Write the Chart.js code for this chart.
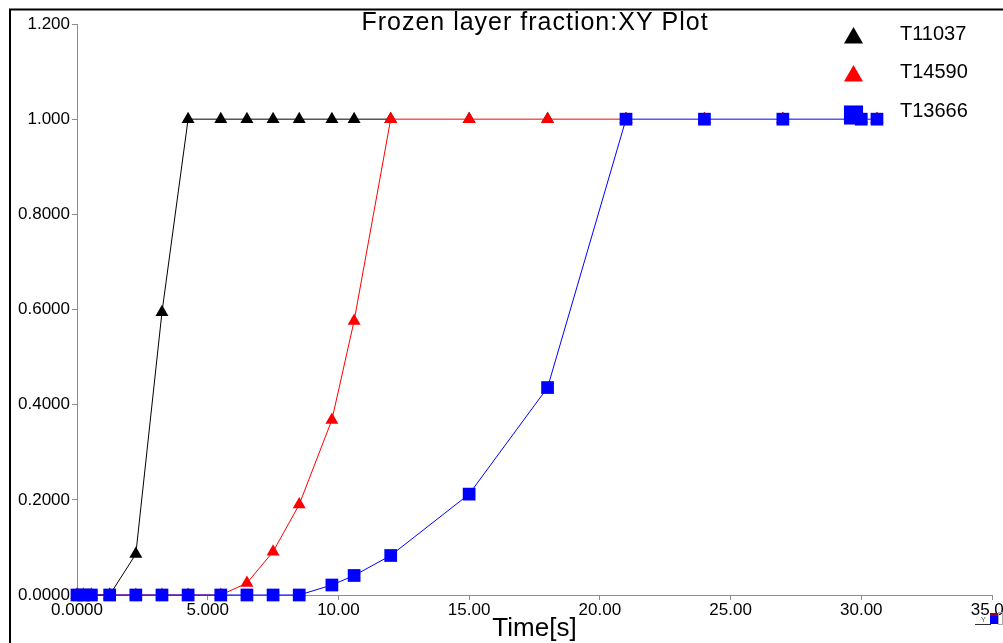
<!DOCTYPE html>
<html>
<head>
<meta charset="utf-8">
<title>Frozen layer fraction:XY Plot</title>
<script src="https://cdn.jsdelivr.net/npm/chart.js@4.4.1/dist/chart.umd.min.js"></script>
<style>
  html, body { margin: 0; padding: 0; background: #fff; }
  #wrap { width: 1003px; height: 643px; position: relative; }
</style>
</head>
<body>
<div id="wrap"><canvas id="plot" width="1003" height="643"></canvas></div>
<script>
// time steps shared by the three curves [s]
const times = [0, 0.25, 0.55, 1.25, 2.25, 3.25, 4.25, 5.5, 6.5, 7.5, 8.5, 9.75, 10.6, 12.0, 15.0, 18.0, 21.0, 24.0, 27.0, 30.0, 30.6];

// frozen layer fraction per node
const t11037 = [0, 0, 0, 0, 0.086, 0.594, 1, 1, 1, 1, 1, 1, 1, 1, 1, 1, 1, 1, 1, 1, 1];
const t14590 = [0, 0, 0, 0, 0, 0, 0, 0, 0.025, 0.091, 0.19, 0.368, 0.576, 1, 1, 1, 1, 1, 1, 1, 1];
const t13666 = [0, 0, 0, 0, 0, 0, 0, 0, 0, 0, 0, 0.021, 0.041, 0.083, 0.212, 0.436, 1, 1, 1, 1, 1];

const seriesNames = ['T11037', 'T14590', 'T13666'];
const xTickLabels = ['0.0000', '5.000', '10.00', '15.00', '20.00', '25.00', '30.00', '35.00'];
const yTickLabels = ['0.0000', '0.2000', '0.4000', '0.6000', '0.8000', '1.000', '1.200'];

const FONT = '"Liberation Sans", Arial, sans-serif';
const axisGray = '#8c8c8c';

function toPoints(values) {
  return times.map((t, i) => ({ x: t, y: values[i] }));
}

// the next curve is drawn on top of this one from `from` on, so skip the line there
function hideAfter(from) {
  return {
    borderColor: (c) => (c.p0.parsed.x >= from ? 'rgba(0,0,0,0)' : undefined)
  };
}

// legend, title, frame - drawn over the plot like the original tool does
const overlay = {
  id: 'overlay',
  beforeDraw(chart) {
    const ctx = chart.ctx;
    ctx.save();
    ctx.fillStyle = '#fff';
    ctx.fillRect(0, 0, chart.width, chart.height);
    ctx.restore();
  },
  afterDraw(chart) {
    const ctx = chart.ctx;
    ctx.save();

    // outer frame (only left and top edges are inside the picture)
    ctx.strokeStyle = '#000';
    ctx.lineWidth = 2;
    ctx.beginPath();
    ctx.moveTo(10, chart.height + 5);
    ctx.lineTo(10, 9.6);
    ctx.lineTo(chart.width + 5, 9.6);
    ctx.stroke();

    // title
    ctx.fillStyle = '#000';
    ctx.font = '25px ' + FONT;
    ctx.letterSpacing = '1px';
    ctx.textBaseline = 'alphabetic';
    ctx.textAlign = 'left';
    const title = 'Frozen layer fraction:XY Plot';
    const w = ctx.measureText(title).width;
    ctx.fillText(title, 535 - w / 2, 29.5);
    ctx.letterSpacing = '0px';

    // legend
    const legendRadius = [11, 11, 13.5];
    const textY = [34, 72, 111];
    chart.data.datasets.forEach((ds, i) => {
      ctx.fillStyle = ds.pointBackgroundColor;
      Chart.helpers.drawPoint(ctx, {
        pointStyle: ds.pointStyle,
        radius: legendRadius[i],
        borderWidth: 0,
        rotation: 0
      }, 853.5, textY[i] + 4);
      ctx.fillStyle = '#000';
      ctx.font = '20px ' + FONT;
      ctx.textBaseline = 'middle';
      ctx.fillText(seriesNames[i], 900, textY[i]);
    });

    // little view triad in the corner
    ctx.strokeStyle = '#333';
    ctx.lineWidth = 1;
    ctx.beginPath();
    ctx.moveTo(975, 624.5);
    ctx.lineTo(991, 624.5);
    ctx.stroke();
    ctx.font = '7px ' + FONT;
    ctx.fillStyle = '#555';
    ctx.fillText('Y', 981, 620);
    ctx.fillStyle = '#0000ff';
    ctx.fillRect(990, 613, 8, 11);
    ctx.fillStyle = '#a00020';
    ctx.fillRect(990, 613, 8, 3);
    ctx.strokeStyle = '#aaa';
    ctx.strokeRect(998.5, 612.5, 4, 12);

    ctx.restore();
  }
};

new Chart(document.getElementById('plot').getContext('2d'), {
  type: 'line',
  data: {
    datasets: [
      {
        label: seriesNames[0],
        data: toPoints(t11037),
        borderColor: '#000000',
        pointBackgroundColor: '#000000',
        pointStyle: 'triangle',
        pointRadius: 7.5,
        segment: hideAfter(12),
        order: 3
      },
      {
        label: seriesNames[1],
        data: toPoints(t14590),
        borderColor: '#ff0000',
        pointBackgroundColor: '#ff0000',
        pointStyle: 'triangle',
        pointRadius: 7.5,
        segment: hideAfter(21),
        order: 2
      },
      {
        label: seriesNames[2],
        data: toPoints(t13666),
        borderColor: '#0000ff',
        pointBackgroundColor: '#0000ff',
        pointStyle: 'rect',
        pointRadius: 9,
        order: 1
      }
    ].map(ds => Object.assign(ds, {
      borderWidth: 1,
      tension: 0,
      fill: false,
      pointBorderWidth: 0,
      pointHoverRadius: ds.pointRadius,
      clip: false
    }))
  },
  options: {
    responsive: false,
    animation: false,
    layout: { padding: { top: 24, right: 11, left: 0, bottom: 0 } },
    plugins: {
      legend: { display: false },
      title: { display: false },
      tooltip: { enabled: false }
    },
    scales: {
      x: {
        type: 'linear',
        min: 0,
        max: 35,
        ticks: {
          stepSize: 5,
          padding: 0,
          maxRotation: 0,
          autoSkip: false,
          color: '#000',
          font: { size: 17, family: FONT },
          callback: (v) => xTickLabels[Math.round(v / 5)]
        },
        grid: { drawOnChartArea: false, drawTicks: true, tickLength: 5, color: axisGray },
        border: { display: true, color: axisGray, width: 1 },
        title: {
          display: true,
          text: 'Time[s]',
          color: '#000',
          font: { size: 26, family: FONT },
          padding: { top: 0, bottom: -1 }
        },
        afterFit(scale) {
          scale.height = 48;
          scale.paddingLeft = 0;
          scale.paddingRight = 0;
        }
      },
      y: {
        min: 0,
        max: 1.2,
        ticks: {
          stepSize: 0.2,
          padding: 2,
          color: '#000',
          font: { size: 17, family: FONT },
          callback: (v) => yTickLabels[Math.round(v / 0.2)]
        },
        grid: { drawOnChartArea: false, drawTicks: true, tickLength: 5, color: axisGray },
        border: { display: true, color: axisGray, width: 1 },
        afterFit(scale) {
          scale.width = 77;
          scale.paddingTop = 0;
          scale.paddingBottom = 0;
        }
      }
    }
  },
  plugins: [overlay]
});
</script>
</body>
</html>
